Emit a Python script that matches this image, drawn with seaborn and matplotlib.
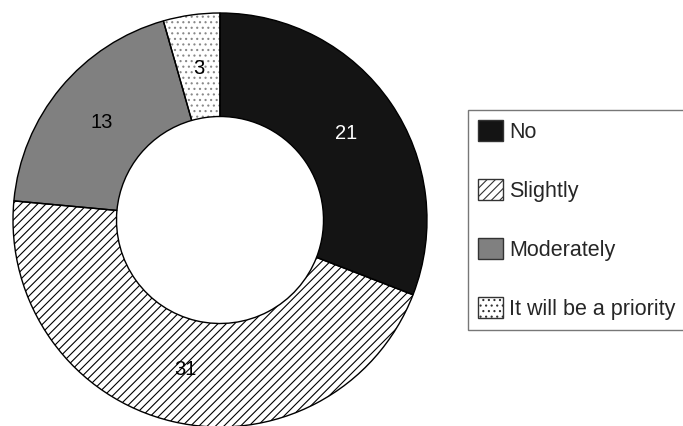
import matplotlib
matplotlib.use("Agg")
import matplotlib.pyplot as plt
import seaborn as sns

categories = ["No", "Slightly", "Moderately", "It will be a priority"]
counts = [21, 31, 13, 3]
fills = ["#141414", "white", "#808080", "white"]
hatches = [None, "////", None, "..."]
hatch_colors = ["black", "black", "black", "#888888"]
label_colors = ["white", "black", "black", "black"]

sns.set_theme(style="white")
plt.rcParams["font.family"] = ["Liberation Sans", "DejaVu Sans"]
plt.rcParams["hatch.linewidth"] = 0.8

W, H = 683, 426
fig = plt.figure(figsize=(W / 100, H / 100), dpi=100)
# donut centre ~(220, 220) px from top-left, outer radius ~207 px
cx, cy, r = 220, 220, 207
ax = fig.add_axes([(cx - r) / W, (H - cy - r) / H, 2 * r / W, 2 * r / H])

wedges, texts, autotexts = ax.pie(
    counts,
    colors=fills,
    startangle=90,
    counterclock=False,
    radius=1,
    autopct=lambda p: "{:.0f}".format(p * sum(counts) / 100),
    pctdistance=0.74,
    wedgeprops=dict(width=0.5, linewidth=0),
    textprops=dict(fontsize=14.5),
)
for w, h, hc in zip(wedges, hatches, hatch_colors):
    w.set_edgecolor(hc)
    if h:
        w.set_hatch(h)
for t, c in zip(autotexts, label_colors):
    t.set_color(c)

# black outlines on top of the hatched fills
outline, _ = ax.pie(
    counts,
    startangle=90,
    counterclock=False,
    radius=1,
    wedgeprops=dict(width=0.5, facecolor="none", edgecolor="black", linewidth=1),
)
for t in autotexts:
    t.set_zorder(5)

ax.set_xlim(-1, 1)
ax.set_ylim(-1, 1)
ax.set_aspect("equal")
ax.axis("off")

leg = fig.legend(
    wedges, categories,
    loc="upper left",
    bbox_to_anchor=(468 / W, 1 - 110 / H),
    borderaxespad=0,
    fontsize=15.5,
    frameon=True,
    fancybox=False,
    handlelength=1.16,
    handleheight=1.12,
    handletextpad=0.28,
    borderpad=0.47,
    labelspacing=1.68,
)
leg.get_frame().set_edgecolor("#555555")
leg.get_frame().set_linewidth(1)
for p in leg.get_patches():
    p.set_linewidth(1)
    p.set_edgecolor("#333333")

fig.savefig("out.png", dpi=100)
